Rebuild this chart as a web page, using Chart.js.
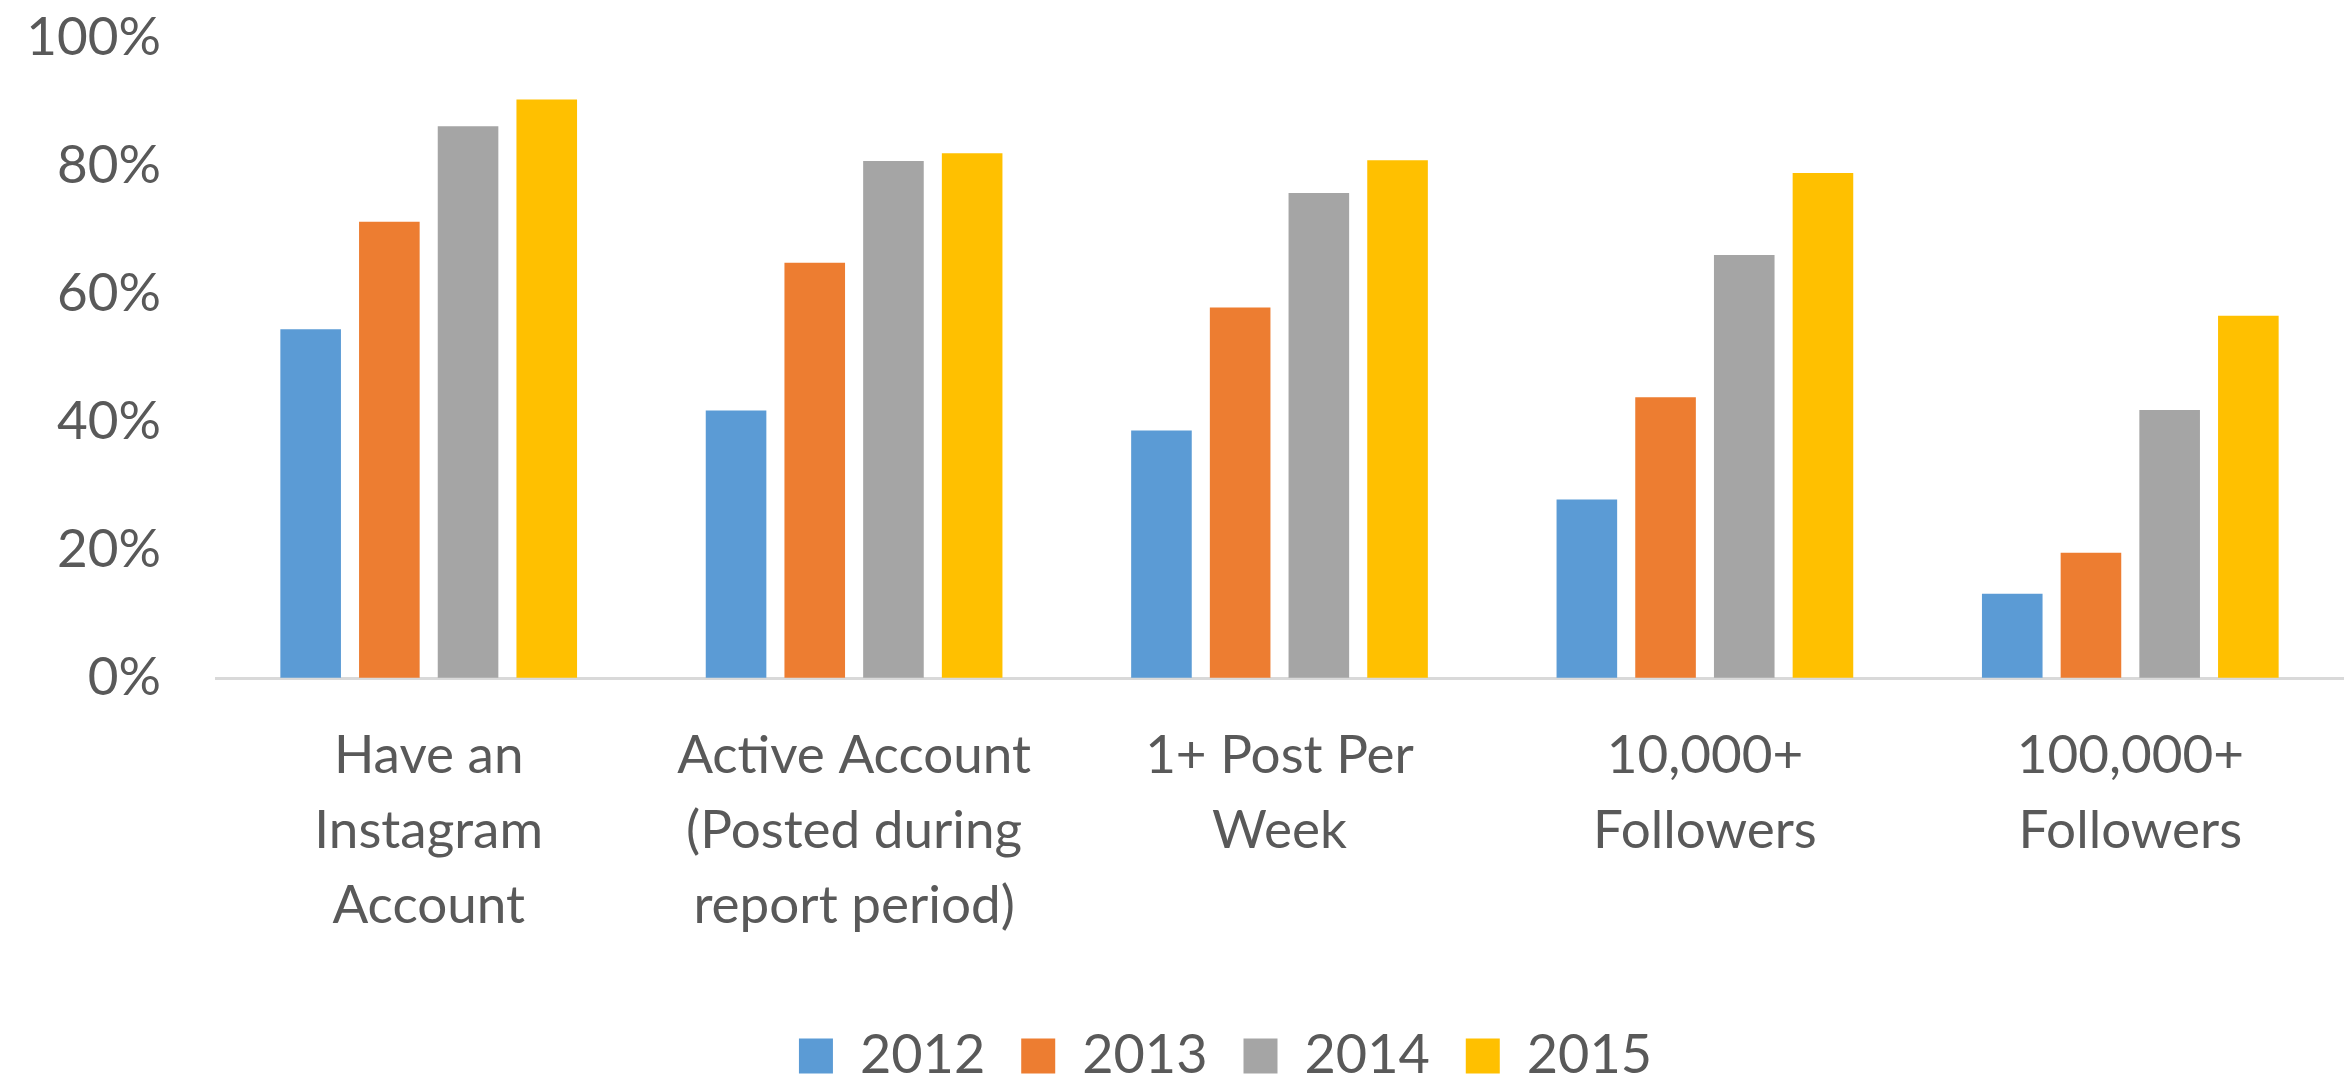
<!DOCTYPE html>
<html>
<head>
<meta charset="utf-8">
<script src="https://cdn.jsdelivr.net/npm/chart.js@4.4.1/dist/chart.umd.min.js"></script>
<style>
  html, body { margin: 0; padding: 0; background: #fff; overflow: hidden; }
  #wrap { width: 2350px; height: 1093px; position: relative; }
</style>
</head>
<body>
<div id="wrap"><canvas id="grafico"></canvas></div>
<script>
// categorias e valores (em %)
const categorias = [
  ['Have an', 'Instagram', 'Account'],
  ['Active Account', '(Posted during', 'report period)'],
  ['1+ Post Per', 'Week'],
  ['10,000+', 'Followers'],
  ['100,000+', 'Followers']
];
const anos = ['2012', '2013', '2014', '2015'];
const dados2012 = [54.5, 41.8, 38.7, 27.9, 13.2];
const dados2013 = [71.3, 64.9, 57.9, 43.9, 19.6];
const dados2014 = [86.2, 80.8, 75.8, 66.1, 41.9];
const dados2015 = [90.4, 82.0, 80.9, 78.9, 56.6];
const ticksY = [0, 20, 40, 60, 80, 100];

const cores = ['#5B9BD5', '#ED7D31', '#A5A5A5', '#FFC000'];
const series = [dados2012, dados2013, dados2014, dados2015];
const corTexto = '#595959';
const fonte = 'Lato, "Open Sans", sans-serif';

// a legenda do original fica um pouco à direita do centro do canvas
const deslocaLegenda = {
  id: 'deslocaLegenda',
  afterLayout(chart) {
    chart.legend.left += 54;
    chart.legend.right += 54;
  }
};

const ctx = document.getElementById('grafico').getContext('2d');

new Chart(ctx, {
  type: 'bar',
  data: {
    labels: categorias,
    datasets: series.map((valores, i) => ({
      label: anos[i],
      data: valores,
      backgroundColor: cores[i],
      borderWidth: 0,
      categoryPercentage: 0.74,
      barPercentage: 0.77
    }))
  },
  plugins: [deslocaLegenda],
  options: {
    responsive: true,
    maintainAspectRatio: false,
    animation: false,
    layout: {
      padding: { left: 0, right: 7, top: 38, bottom: 0 }
    },
    scales: {
      y: {
        min: 0,
        max: 100,
        afterBuildTicks: scale => {
          scale.ticks = ticksY.map(v => ({ value: v }));
        },
        afterFit: scale => {
          scale.width = 216;
        },
        ticks: {
          callback: v => v + '%',
          color: corTexto,
          font: { family: fonte, size: 53 },
          padding: 0
        },
        grid: { display: true, color: 'rgba(0,0,0,0)', drawTicks: true, tickLength: 55 },
        border: { display: false }
      },
      x: {
        afterFit: scale => {
          scale.height += 9;
        },
        ticks: {
          color: corTexto,
          font: { family: fonte, size: 53, lineHeight: 1.42 },
          padding: 40,
          maxRotation: 0,
          autoSkip: false
        },
        grid: { display: false, drawTicks: false },
        border: { display: true, color: '#D9D9D9', width: 3 }
      }
    },
    plugins: {
      legend: {
        display: true,
        position: 'bottom',
        labels: {
          color: corTexto,
          font: { family: fonte, size: 54 },
          boxWidth: 34,
          boxHeight: 35,
          padding: 36
        }
      },
      tooltip: { enabled: true }
    }
  }
});
</script>
</body>
</html>
